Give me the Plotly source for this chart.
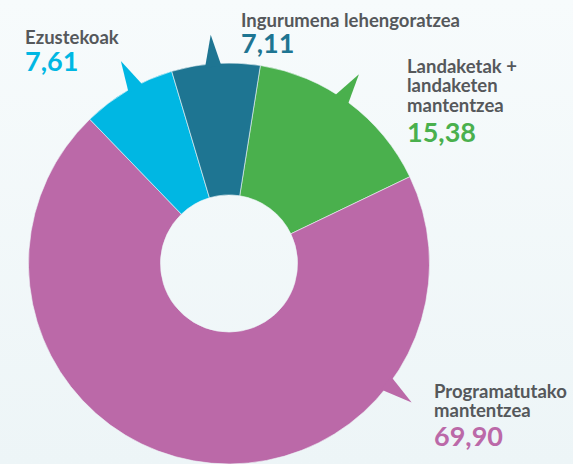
import math
import plotly.graph_objects as go

W, H = 573, 464

# datos (orden del dibujo, en sentido horario desde arriba)
labels = ["Landaketak + landaketen mantentzea", "Programatutako mantentzea",
          "Ezustekoak", "Ingurumena lehengoratzea"]
label_lines = [["Landaketak +", "landaketen", "mantentzea"],
               ["Programatutako", "mantentzea"],
               ["Ezustekoak"],
               ["Ingurumena lehengoratzea"]]
values = [15.38, 69.90, 7.61, 7.11]
colors = ["#4ab04d", "#bb69a8", "#00b7e3", "#1e7592"]

# estilo / posiciones
NAME_GREY = "#55585b"
BG_TOP, BG_BOTTOM = "#f7fbfc", "#edf5f7"
ROTATION = 9
POINTER_FRAC = [0.46, 0.25, 0.58, 0.47]
# (x izquierda, y centro de cada linea del nombre, y centro del numero) en px
LABEL_POS = [
    (405, [65.5, 85, 104.5], 131),
    (432, [390.5, 409.5], 435),
    (23, [36.5], 60.5),
    (239, [20], 42),
]

PIE_X = [28 / W, 430 / W]
PIE_Y = [0, 401 / H]

fig = go.Figure()

# fondo degradado
fig.add_trace(go.Scatter(
    x=[0, 1, 1, 0, 0], y=[0, 0, 1, 1, 0], mode="none", fill="toself",
    fillgradient=dict(type="vertical", colorscale=[[0, BG_BOTTOM], [1, BG_TOP]]),
    hoverinfo="skip", showlegend=False,
))

fig.add_trace(go.Pie(
    labels=labels, values=values, sort=False, direction="clockwise",
    rotation=ROTATION, hole=0.342,
    marker=dict(colors=colors, line=dict(color="#eef6f8", width=0.6)),
    textinfo="none", hoverinfo="label+value", showlegend=False,
    domain=dict(x=PIE_X, y=PIE_Y),
))

# picos de las "burbujas" (a partir de la geometria de la tarta, en px)
cx = (PIE_X[0] + PIE_X[1]) / 2 * W
cy = H - (PIE_Y[0] + PIE_Y[1]) / 2 * H
R = min((PIE_X[1] - PIE_X[0]) * W, (PIE_Y[1] - PIE_Y[0]) * H) / 2


def pt(ang, rr):
    t = math.radians(ang)
    x = cx + rr * R * math.sin(t)
    y = cy - rr * R * math.cos(t)
    return f"{x / W:.5f},{1 - y / H:.5f}"


total = sum(values)
start = ROTATION
for v, c, f in zip(values, colors, POINTER_FRAC):
    span = v / total * 360
    a = start + f * span
    path = f"M{pt(a - 2.4, 0.985)} L{pt(a, 1.145)} L{pt(a + 2.4, 0.985)} Z"
    fig.add_shape(type="path", path=path, xref="paper", yref="paper",
                  fillcolor=c, line=dict(width=0), layer="above")
    start += span

for lines, v, c, (x0, ys, yn) in zip(label_lines, values, colors, LABEL_POS):
    for ln, yy in zip(lines, ys):
        fig.add_annotation(
            x=x0 / W, y=1 - yy / H, xref="paper", yref="paper",
            xanchor="left", yanchor="middle", showarrow=False, text=ln,
            font=dict(family="Lato", size=18.5, color=NAME_GREY, weight="bold"),
        )
    fig.add_annotation(
        x=x0 / W, y=1 - yn / H, xref="paper", yref="paper",
        xanchor="left", yanchor="middle", showarrow=False,
        text=f"{v:.2f}".replace(".", ","),
        font=dict(family="Lato", size=27, color=c, weight="bold"),
    )

fig.update_layout(
    width=W, height=H,
    margin=dict(l=0, r=0, t=0, b=0),
    paper_bgcolor=BG_TOP, plot_bgcolor="rgba(0,0,0,0)",
    xaxis=dict(visible=False, range=[0, 1], domain=[0, 1], fixedrange=True),
    yaxis=dict(visible=False, range=[0, 1], domain=[0, 1], fixedrange=True),
)

fig.write_html("out.html", config={"displayModeBar": False},
               post_script="document.body.style.margin='0';")
